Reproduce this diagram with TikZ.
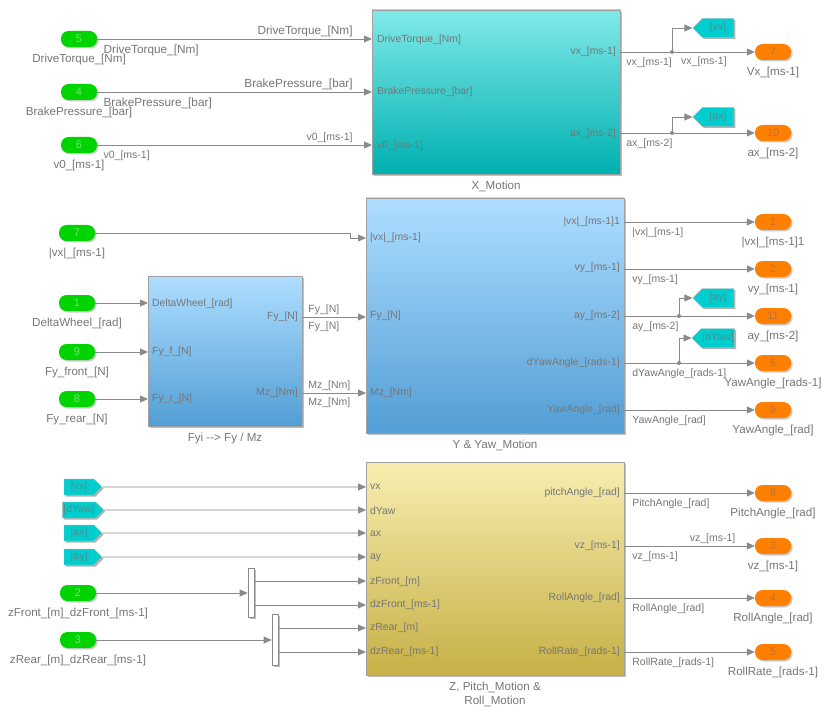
\documentclass[tikz,border=0pt]{standalone}
\usepackage{fontspec}
\setmainfont{Liberation Sans}
\usetikzlibrary{arrows.meta,positioning,shapes.symbols,shadows}

\definecolor{wire}{RGB}{138,138,138}
\definecolor{txt}{RGB}{118,118,118}
\definecolor{inpfill}{RGB}{0,212,0}
\definecolor{inptxt}{RGB}{110,228,110}
\definecolor{outfill}{RGB}{255,128,0}
\definecolor{outtxt}{RGB}{192,110,60}
\definecolor{tagfill}{RGB}{0,206,206}
\definecolor{tagtxt}{RGB}{80,140,140}
\definecolor{xtop}{RGB}{128,233,233}
\definecolor{xbot}{RGB}{0,176,176}
\definecolor{ytop}{RGB}{175,222,255}
\definecolor{ybot}{RGB}{82,158,214}
\definecolor{ztop}{RGB}{248,238,176}
\definecolor{zbot}{RGB}{198,176,70}

\tikzset{
  sig/.style={draw=wire, line width=0.8pt, -{Triangle[length=8pt,width=7pt]}},
  blk/.style={draw=wire!80, line width=0.6pt, inner sep=0pt, outer sep=0pt,
    drop shadow={shadow xshift=2pt, shadow yshift=-2pt, fill=black, opacity=0.25}},
  inp/.style={fill=inpfill, rounded corners=7.5pt, minimum width=36pt, minimum height=16pt,
    inner sep=0pt, text=inptxt, font=\fontsize{11}{12}\selectfont,
    drop shadow={shadow xshift=1.5pt, shadow yshift=-1.5pt, fill=black, opacity=0.2}},
  outp/.style={inp, fill=outfill, text=outtxt},
  gototag/.style={signal, signal to=west, fill=tagfill, draw=wire!60, line width=0.4pt,
    minimum width=41pt, minimum height=19pt, inner xsep=1pt, inner ysep=0pt,
    font=\fontsize{10.5}{12}\selectfont,
    drop shadow={shadow xshift=1.5pt, shadow yshift=-1.5pt, fill=black, opacity=0.3}},
  fromtag/.style={gototag, signal to=east, minimum width=38pt, minimum height=16pt},
  demux/.style={draw=wire, fill=white, line width=0.6pt, minimum width=6pt, inner sep=0pt,
    drop shadow={shadow xshift=1.5pt, shadow yshift=-1.5pt, fill=black, opacity=0.25}},
  bl/.style={text=txt, inner sep=1pt, font=\fontsize{11.6}{13.5}\selectfont},
  ll/.style={text=txt, inner sep=1pt, font=\fontsize{10.5}{12}\selectfont},
  llbig/.style={ll, font=\fontsize{11.8}{13}\selectfont},
  pl/.style={text=txt, inner sep=0pt, font=\fontsize{10.4}{12}\selectfont},
}

\begin{document}
\begin{tikzpicture}[x=1pt, y=-1pt]
\useasboundingbox (0,0) rectangle (830,714);

% X motion block
\node[blk, top color=xtop, middle color=xtop!85!xbot, bottom color=xbot,
  minimum width=248pt, minimum height=164pt] (xm) at (496,92) {};
\node[bl, below=6pt of xm] (xmttl) {X\_Motion};
\node[pl, anchor=west] (xmi1) at (377,40) {DriveTorque\_[Nm]};
\node[pl, anchor=west] (xmi2) at (377,92) {BrakePressure\_[bar]};
\node[pl, anchor=west] (xmi3) at (377,146) {v0\_[ms-1]};
\node[pl, anchor=east] (xmo1) at (616,52) {vx\_[ms-1]};
\node[pl, anchor=east] (xmo2) at (616,134) {ax\_[ms-2]};

% inputs of X motion
\node[inp] (in5) at (79,39) {5};
\node[bl, below=6pt of in5] (in5l) {DriveTorque\_[Nm]};
\node[inp] (in4) at (79,92) {4};
\node[bl, below=6pt of in4] (in4l) {BrakePressure\_[bar]};
\node[inp] (in6) at (79,145) {6};
\node[bl, below=6pt of in6] (in6l) {v0\_[ms-1]};

\draw[sig] (in5) -- (in5 -| xm.west)
  node[llbig, pos=0, anchor=north west, xshift=5pt, yshift=-5pt] (l5a) {DriveTorque\_[Nm]}
  node[llbig, pos=1, anchor=south east, xshift=-18pt, yshift=1pt] (l5b) {DriveTorque\_[Nm]};
\draw[sig] (in4) -- (in4 -| xm.west)
  node[llbig, pos=0, anchor=north west, xshift=5pt, yshift=-5pt] (l4a) {BrakePressure\_[bar]}
  node[llbig, pos=1, anchor=south east, xshift=-18pt, yshift=1pt] (l4b) {BrakePressure\_[bar]};
\draw[sig] (in6) -- (in6 -| xm.west)
  node[ll, pos=0, anchor=north west, xshift=5pt, yshift=-4pt] (l6a) {v0\_[ms-1]}
  node[ll, pos=1, anchor=south east, xshift=-18pt, yshift=1pt] (l6b) {v0\_[ms-1]};

% outputs of X motion
\node[outp] (out7) at (773,52) {7};
\node[bl, below=6pt of out7] (out7l) {Vx\_[ms-1]};
\node[gototag, text=tagtxt] (gvx) at (718,28) {[vx]};
\coordinate (bvx) at (672,52);
\draw[sig] (xm.east |- out7) -- (out7)
  node[ll, pos=0, anchor=north west, xshift=5pt, yshift=-4pt] (l7a) {vx\_[ms-1]};
\draw[sig] (bvx) |- (gvx.west);
\fill[wire] (bvx) circle (2pt);
\node[ll, anchor=north west] (l7b) at ([xshift=8pt, yshift=-4pt]bvx) {vx\_[ms-1]};

\node[outp] (out10) at (773,133) {10};
\node[bl, below=6pt of out10] (out10l) {ax\_[ms-2]};
\node[gototag, text=tagtxt] (gax) at (718,117) {[ax]};
\coordinate (bax) at (672,133);
\draw[sig] (xm.east |- out10) -- (out10)
  node[ll, pos=0, anchor=north west, xshift=5pt, yshift=-4pt] (l10a) {ax\_[ms-2]};
\draw[sig] (bax) |- (gax.west);
\fill[wire] (bax) circle (2pt);

% Y and yaw block
\node[blk, top color=ytop, middle color=ytop!85!ybot, bottom color=ybot,
  minimum width=258pt, minimum height=235pt] (ym) at (495,315.5) {};
\node[bl, below=6pt of ym] (ymttl) {Y \& Yaw\_Motion};
\node[pl, anchor=west] (ymi1) at (370,238) {|vx|\_[ms-1]};
\node[pl, anchor=west] (ymi2) at (370,316) {Fy\_[N]};
\node[pl, anchor=west] (ymi3) at (370,393) {Mz\_[Nm]};
\node[pl, anchor=east] (ymo1) at (620,222) {|vx|\_[ms-1]1};
\node[pl, anchor=east] (ymo2) at (620,268) {vy\_[ms-1]};
\node[pl, anchor=east] (ymo3) at (620,316) {ay\_[ms-2]};
\node[pl, anchor=east] (ymo4) at (620,363) {dYawAngle\_[rads-1]};
\node[pl, anchor=east] (ymo5) at (620,410) {YawAngle\_[rad]};

% Fyi block
\node[blk, top color=ytop, middle color=ytop!85!ybot, bottom color=ybot,
  minimum width=154pt, minimum height=150pt] (fyi) at (225,351) {};
\node[bl, below=6pt of fyi] (fyittl) {Fyi {-}{-}> Fy / Mz};
\node[pl, anchor=west] (fyii1) at (152,304) {DeltaWheel\_[rad]};
\node[pl, anchor=west] (fyii2) at (152,352) {Fy\_f\_[N]};
\node[pl, anchor=west] (fyii3) at (152,399) {Fy\_r\_[N]};
\node[pl, anchor=east] (fyio1) at (298,317) {Fy\_[N]};
\node[pl, anchor=east] (fyio2) at (298,393) {Mz\_[Nm]};

% inputs of Y and Fyi
\node[inp] (in7) at (77,233) {7};
\node[bl, below=6pt of in7] (in7l) {|vx|\_[ms-1]};
\coordinate (kvx) at (350,233);
\draw[sig] (in7) -- (kvx) |- (ym.west |- 0,238);

\node[inp] (in1) at (77,303) {1};
\node[bl, below=6pt of in1] (in1l) {DeltaWheel\_[rad]};
\node[inp] (in9) at (77,352) {9};
\node[bl, below=6pt of in9] (in9l) {Fy\_front\_[N]};
\node[inp] (in8) at (77,399) {8};
\node[bl, below=6pt of in8] (in8l) {Fy\_rear\_[N]};
\draw[sig] (in1) -- (fyi.west |- in1);
\draw[sig] (in9) -- (fyi.west |- in9);
\draw[sig] (in8) -- (fyi.west |- in8);

\draw[sig] (fyi.east |- 0,317) -- (ym.west |- 0,317)
  node[ll, pos=0, anchor=south west, xshift=5pt, yshift=1pt] (lfya) {Fy\_[N]}
  node[ll, pos=0, anchor=north west, xshift=5pt, yshift=-3pt] (lfyb) {Fy\_[N]};
\draw[sig] (fyi.east |- 0,393) -- (ym.west |- 0,393)
  node[ll, pos=0, anchor=south west, xshift=5pt, yshift=1pt] (lmza) {Mz\_[Nm]}
  node[ll, pos=0, anchor=north west, xshift=5pt, yshift=-3pt] (lmzb) {Mz\_[Nm]};

% outputs of Y and yaw
\node[outp] (out1) at (773,222) {1};
\node[bl, below=6pt of out1] (out1l) {|vx|\_[ms-1]1};
\node[outp] (out2) at (773,269) {2};
\node[bl, below=6pt of out2] (out2l) {vy\_[ms-1]};
\node[outp] (out11) at (773,316) {11};
\node[bl, below=6pt of out11] (out11l) {ay\_[ms-2]};
\node[outp] (out6) at (773,363) {6};
\node[bl, below=6pt of out6] (out6l) {YawAngle\_[rads-1]};
\node[outp] (out9) at (773,410) {9};
\node[bl, below=6pt of out9] (out9l) {YawAngle\_[rad]};

\draw[sig] (ym.east |- out1) -- (out1)
  node[ll, pos=0, anchor=north west, xshift=7pt, yshift=-4pt] (l1a) {|vx|\_[ms-1]};
\draw[sig] (ym.east |- out2) -- (out2)
  node[ll, pos=0, anchor=north west, xshift=7pt, yshift=-4pt] (l2a) {vy\_[ms-1]};
\draw[sig] (ym.east |- out11) -- (out11)
  node[ll, pos=0, anchor=north west, xshift=7pt, yshift=-4pt] (l11a) {ay\_[ms-2]};
\draw[sig] (ym.east |- out6) -- (out6)
  node[ll, pos=0, anchor=north west, xshift=7pt, yshift=-4pt] (l6c) {dYawAngle\_[rads-1]};
\draw[sig] (ym.east |- out9) -- (out9)
  node[ll, pos=0, anchor=north west, xshift=7pt, yshift=-4pt] (l9a) {YawAngle\_[rad]};

\node[gototag, text=tagtxt] (gay) at (718,298) {[ay]};
\coordinate (bay) at (679,316);
\draw[sig] (bay) |- (gay.west);
\fill[wire] (bay) circle (2pt);
\node[gototag, text=tagtxt] (gdy) at (718,338) {[dYaw]};
\coordinate (bdy) at (679,363);
\draw[sig] (bdy) |- (gdy.west);
\fill[wire] (bdy) circle (2pt);

% Z, pitch and roll block
\node[blk, top color=ztop, middle color=ztop!85!zbot, bottom color=zbot,
  minimum width=258pt, minimum height=213pt] (zm) at (495,568.5) {};
\node[bl, below=6pt of zm, align=center] (zmttl) {Z, Pitch\_Motion \&\\Roll\_Motion};
\node[pl, anchor=west] (zmi1) at (370,487) {vx};
\node[pl, anchor=west] (zmi2) at (370,511) {dYaw};
\node[pl, anchor=west] (zmi3) at (370,534) {ax};
\node[pl, anchor=west] (zmi4) at (370,558) {ay};
\node[pl, anchor=west] (zmi5) at (370,582) {zFront\_[m]};
\node[pl, anchor=west] (zmi6) at (370,605) {dzFront\_[ms-1]};
\node[pl, anchor=west] (zmi7) at (370,628) {zRear\_[m]};
\node[pl, anchor=west] (zmi8) at (370,652) {dzRear\_[ms-1]};
\node[pl, anchor=east] (zmo1) at (620,493) {pitchAngle\_[rad]};
\node[pl, anchor=east] (zmo2) at (620,546) {vz\_[ms-1]};
\node[pl, anchor=east] (zmo3) at (620,598) {RollAngle\_[rad]};
\node[pl, anchor=east] (zmo4) at (620,652) {RollRate\_[rads-1]};

% inputs of Z block
\node[fromtag, text=tagtxt] (fvx) at (79,487) {[vx]};
\node[fromtag, text=tagtxt] (fdy) at (79,510) {[dYaw]};
\node[fromtag, text=tagtxt] (fax) at (79,533) {[ax]};
\node[fromtag, text=tagtxt] (fay) at (79,557) {[ay]};
\draw[sig] (fvx) -- (zm.west |- fvx);
\draw[sig] (fdy) -- (zm.west |- fdy);
\draw[sig] (fax) -- (zm.west |- fax);
\draw[sig] (fay) -- (zm.west |- fay);

\node[inp] (in2) at (78,593) {2};
\node[bl, below=6pt of in2] (in2l) {zFront\_[m]\_dzFront\_[ms-1]};
\node[inp] (in3) at (78,640) {3};
\node[bl, below=6pt of in3] (in3l) {zRear\_[m]\_dzRear\_[ms-1]};
\node[demux, minimum height=49pt] (dmx1) at (251,592.5) {};
\node[demux, minimum height=51pt] (dmx2) at (275,639.5) {};
\draw[sig] (in2) -- (dmx1.west |- in2);
\draw[sig] (in3) -- (dmx2.west |- in3);
\draw[sig] (dmx1.east |- 0,581) -- (zm.west |- 0,581);
\draw[sig] (dmx1.east |- 0,605) -- (zm.west |- 0,605);
\draw[sig] (dmx2.east |- 0,628) -- (zm.west |- 0,628);
\draw[sig] (dmx2.east |- 0,652) -- (zm.west |- 0,652);

% outputs of Z block
\node[outp] (out8) at (773,493) {8};
\node[bl, below=6pt of out8] (out8l) {PitchAngle\_[rad]};
\node[outp] (out3) at (773,546) {3};
\node[bl, below=6pt of out3] (out3l) {vz\_[ms-1]};
\node[outp] (out4) at (773,598) {4};
\node[bl, below=6pt of out4] (out4l) {RollAngle\_[rad]};
\node[outp] (out5) at (773,652) {5};
\node[bl, below=6pt of out5] (out5l) {RollRate\_[rads-1]};

\draw[sig] (zm.east |- out8) -- (out8)
  node[ll, pos=0, anchor=north west, xshift=7pt, yshift=-4pt] (l8a) {PitchAngle\_[rad]};
\draw[sig] (zm.east |- out3) -- (out3)
  node[ll, pos=0, anchor=north west, xshift=7pt, yshift=-4pt] (l3a) {vz\_[ms-1]}
  node[ll, pos=1, anchor=south east, xshift=-18pt, yshift=1pt] (l3b) {vz\_[ms-1]};
\draw[sig] (zm.east |- out4) -- (out4)
  node[ll, pos=0, anchor=north west, xshift=7pt, yshift=-4pt] (l4c) {RollAngle\_[rad]};
\draw[sig] (zm.east |- out5) -- (out5)
  node[ll, pos=0, anchor=north west, xshift=7pt, yshift=-4pt] (l5c) {RollRate\_[rads-1]};

\end{tikzpicture}
\end{document}
